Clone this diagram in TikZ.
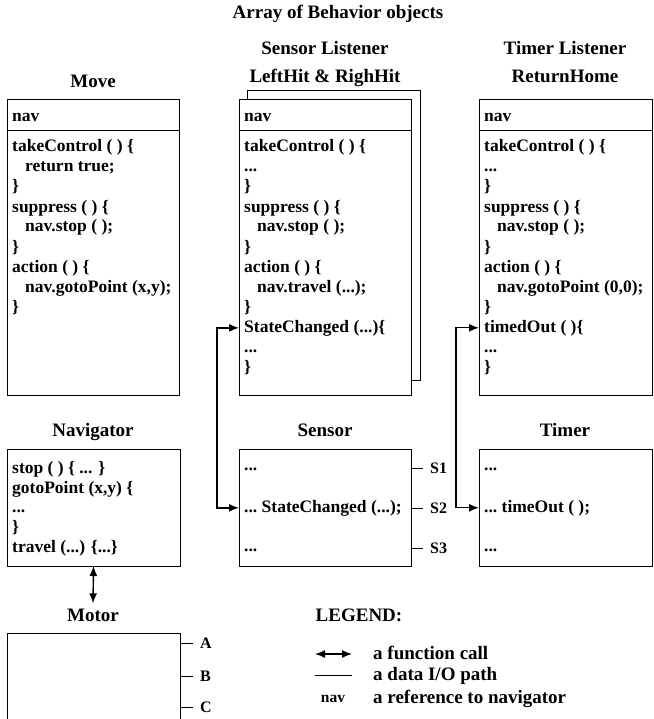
\documentclass[tikz,border=0pt]{standalone}
\usepackage{fontspec}
\setmainfont{Liberation Serif}
\usetikzlibrary{arrows.meta}
\newcommand\codefont{\fontsize{17.5}{20}\selectfont\bfseries}
\newcommand\headfont{\fontsize{19}{21}\selectfont\bfseries}
\newcommand\tickfont{\fontsize{16}{18}\selectfont\bfseries}
\newcommand\navfont{\fontsize{15.5}{18}\selectfont\bfseries}
\begin{document}
\begin{tikzpicture}[x=1pt,y=-1pt,
  box/.style 2 args={draw,line width=1pt,fill=white,inner sep=0pt,outer sep=0pt,anchor=north west,minimum width=#1,minimum height=#2},
  code/.style={anchor=base west,inner sep=0pt,font=\codefont},
  head/.style={anchor=base,inner sep=0pt,font=\headfont},
  ticklabel/.style={anchor=west,inner xsep=7pt,inner ysep=0pt,font=\tickfont},
  tickline/.style={line width=1pt},
  fcall/.style={line width=1.4pt,{Latex[length=10pt,width=8pt]}-{Latex[length=10pt,width=8pt]}},
  sep/.style={line width=1pt}]
\clip (0,0) rectangle (653,719);
\useasboundingbox (0,0) rectangle (653,719);

% titles
\node[head] (arraytitle) at (338,19) {Array of Behavior objects};
\node[head] (movetitle) at (93,88) {Move};
\node[head] (sltitle1) at (325,55) {Sensor Listener};
\node[head] (sltitle2) at (325,83) {LeftHit \& RighHit};
\node[head] (tltitle1) at (565,55) {Timer Listener};
\node[head] (tltitle2) at (565,83) {ReturnHome};

% Move box
\node[box={172pt}{295pt}] (move) at (7,100) {};
\draw[sep] (move.west |- 0,131) -- (move.east |- 0,131);
\node[code] (move-nav) at (12,122) {nav};
\foreach \d/\t [count=\i from 0] in {0/{takeControl ( ) \{},13/{return true;},0/{\}},0/{suppress ( ) \{},13/{nav.stop ( );},0/{\}},0/{action ( ) \{},13/{nav.gotoPoint (x,y);},0/{\}}}
  \node[code] (move-\i) at (12+\d,152+20*\i) {\t};

% Sensor Listener boxes
\node[box={173pt}{289pt}] (slback) at (247,91) {};
\node[box={172pt}{295pt}] (sl) at (239,100) {};
\draw[sep] (sl.west |- 0,131) -- (sl.east |- 0,131);
\node[code] (sl-nav) at (244,122) {nav};
\foreach \d/\t [count=\i from 0] in {0/{takeControl ( ) \{},0/{...},0/{\}},0/{suppress ( ) \{},13/{nav.stop ( );},0/{\}},0/{action ( ) \{},13/{nav.travel (...);},0/{\}},0/{StateChanged (...)\{},0/{...},0/{\}}}
  \node[code] (sl-\i) at (244+\d,152+20*\i) {\t};

% Timer Listener box
\node[box={173pt}{295pt}] (tl) at (479,100) {};
\draw[sep] (tl.west |- 0,131) -- (tl.east |- 0,131);
\node[code] (tl-nav) at (484,122) {nav};
\foreach \d/\t [count=\i from 0] in {0/{takeControl ( ) \{},0/{...},0/{\}},0/{suppress ( ) \{},13/{nav.stop ( );},0/{\}},0/{action ( ) \{},13/{nav.gotoPoint (0,0);},0/{\}},0/{timedOut ( )\{},0/{...},0/{\}}}
  \node[code] (tl-\i) at (484+\d,152+20*\i) {\t};

% second row titles
\node[head] (navtitle) at (93,436) {Navigator};
\node[head] (sensortitle) at (325,436) {Sensor};
\node[head] (timertitle) at (565,436) {Timer};

% Navigator
\node[box={173pt}{117pt}] (navig) at (7,449) {};
\node[code] (navig-0) at (12,473) {stop ( ) \{ ... \}};
\node[code] (navig-1) at (12,493) {gotoPoint (x,y) \{};
\node[code] (navig-2) at (12,512) {...};
\node[code] (navig-3) at (12,532) {\}};
\node[code] (navig-4) at (12,552) {travel (...) \{...\}};

% Sensor
\node[box={172pt}{117pt}] (sensor) at (239,449) {};
\node[code] (sensor-0) at (244,470) {...};
\node[code] (sensor-1) at (244,512) {...\ StateChanged (...);};
\node[code] (sensor-2) at (244,551) {...};
\node[ticklabel] (s1) at (423,468) {S1};
\node[ticklabel] (s2) at (423,508) {S2};
\node[ticklabel] (s3) at (423,548) {S3};
\draw[tickline] (sensor.east |- s1.west) -- (s1.west);
\draw[tickline] (sensor.east |- s2.west) -- (s2.west);
\draw[tickline] (sensor.east |- s3.west) -- (s3.west);

% Timer
\node[box={173pt}{117pt}] (timer) at (479,449) {};
\node[code] (timer-0) at (484,470) {...};
\node[code] (timer-1) at (484,512) {...\ timeOut ( );};
\node[code] (timer-2) at (484,551) {...};

% Motor
\node[head] (motortitle) at (93,621) {Motor};
\node[box={173pt}{120pt}] (motor) at (7,633) {};
\node[ticklabel] (ma) at (193,643) {A};
\node[ticklabel] (mb) at (193,676) {B};
\node[ticklabel] (mc) at (193,707) {C};
\draw[tickline] (motor.east |- ma.west) -- (ma.west);
\draw[tickline] (motor.east |- mb.west) -- (mb.west);
\draw[tickline] (motor.east |- mc.west) -- (mc.west);

% function calls
\draw[fcall] (navig.south) -- ([yshift=5pt]motortitle.north);
\draw[fcall] (sl.west |- sl-9.west) -- ++(-22,0) |- (sensor.west |- sensor-1.west);
\draw[fcall] (tl.west |- tl-9.west) -- ++(-23,0) |- (timer.west |- timer-1.west);

% legend
\node[head] (legendtitle) at (359,621) {LEGEND:};
\coordinate (la1) at (315,654);
\coordinate (la2) at (352,654);
\draw[fcall] (la1) -- (la2);
\coordinate (ll1) at (315,675);
\coordinate (ll2) at (352,675);
\draw[sep] (ll1) -- (ll2);
\node[anchor=base,inner sep=0pt,font=\navfont] (legnav) at (333,702) {nav};
\node[anchor=base west,inner sep=0pt,font=\headfont] (leg1) at (373,659) {a function call};
\node[anchor=base west,inner sep=0pt,font=\headfont] (leg2) at (373,680) {a data I/O path};
\node[anchor=base west,inner sep=0pt,font=\headfont] (leg3) at (373,703) {a reference to navigator};
\end{tikzpicture}
\end{document}
